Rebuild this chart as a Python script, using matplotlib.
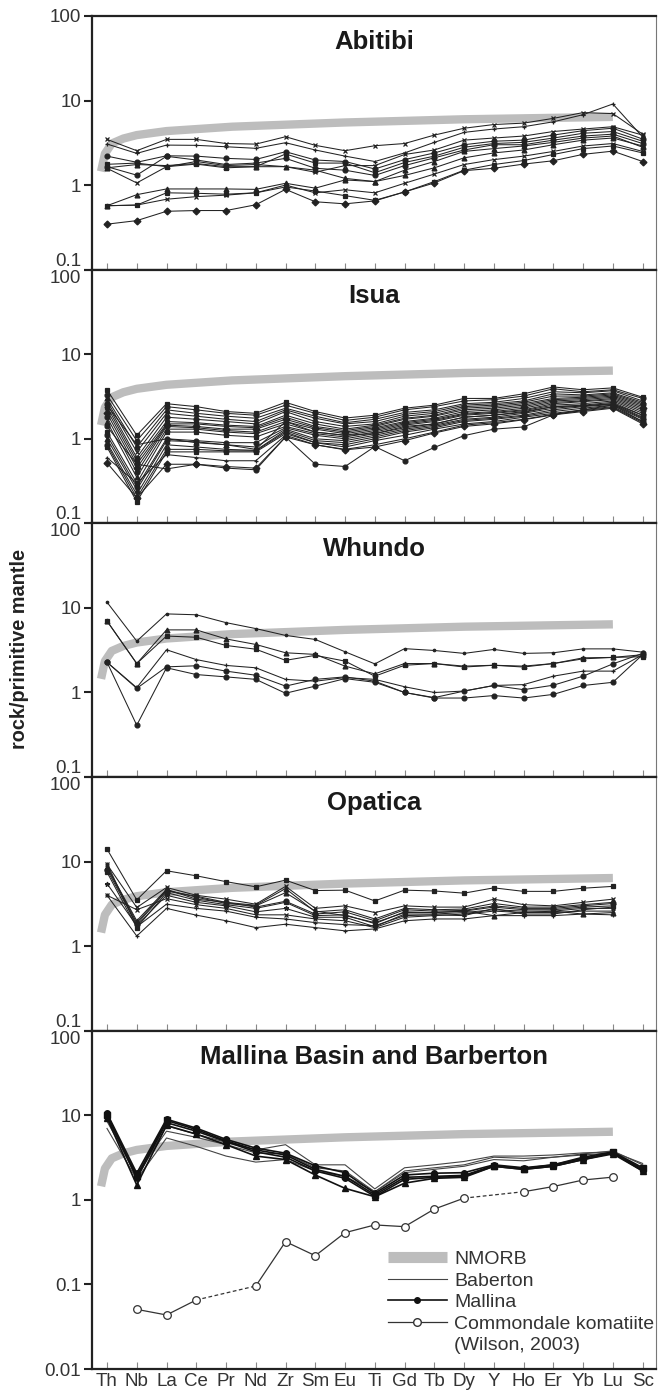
import numpy as np
import matplotlib
matplotlib.use("Agg")
import matplotlib.pyplot as plt
from matplotlib.lines import Line2D

plt.rcParams['font.family'] = ['Liberation Sans', 'DejaVu Sans']

elements = ['Th', 'Nb', 'La', 'Ce', 'Pr', 'Nd', 'Zr', 'Sm', 'Eu', 'Ti',
            'Gd', 'Tb', 'Dy', 'Y', 'Ho', 'Er', 'Yb', 'Lu', 'Sc']
nan = np.nan

# N-MORB reference curve (position along the element axis, normalised value)
nmorb_x = [-0.2, -0.07, 0.16, 0.55, 1.0, 2.0, 4.2, 8.0, 12.0, 17.0]
nmorb_y = [1.45, 2.35, 3.1, 3.55, 3.9, 4.35, 4.9, 5.5, 6.0, 6.4]

abitibi = [
    [3.47, 2.55, 3.47, 3.47, 3.1, 3.05, 3.73, 2.95, 2.55, 2.92, 3.1, 3.9, 4.7, 5.2, 5.4, 6.15, 7.2, 7.0, 4.0],
    [3.06, 2.37, 2.97, 2.95, 2.84, 2.72, 3.17, 2.6, 2.2, 1.9, 2.4, 3.2, 4.2, 4.6, 4.9, 5.6, 6.8, 9.1, 3.7],
    [2.2, 1.86, 2.22, 2.2, 2.07, 2.01, 2.48, 1.98, 1.9, 1.55, 2.0, 2.4, 3.0, 3.3, 3.4, 3.9, 4.4, 4.7, 3.5],
    [1.76, 1.82, 1.65, 1.77, 1.6, 1.65, 2.33, 1.82, 1.82, 1.4, 1.85, 2.2, 2.8, 3.1, 3.2, 3.6, 4.1, 4.3, 3.3],
    [1.65, 1.31, 2.19, 1.98, 1.75, 1.82, 2.07, 1.58, 1.5, 1.3, 1.7, 2.1, 2.6, 3.0, 3.0, 3.4, 3.8, 4.0, 3.1],
    [1.58, 1.06, 1.65, 1.9, 1.7, 1.75, 1.65, 1.42, 1.7, 1.7, 2.3, 2.6, 3.4, 3.6, 3.8, 4.3, 4.6, 4.9, 3.9],
    [1.6, 1.75, 1.7, 1.8, 1.65, 1.65, 1.65, 1.5, 1.2, 1.1, 1.5, 1.9, 2.5, 2.7, 2.9, 3.2, 3.6, 3.8, 2.8],
    [0.57, 0.77, 0.9, 0.9, 0.9, 0.89, 1.05, 0.92, 1.15, 1.1, 1.3, 1.6, 2.1, 2.4, 2.6, 3.0, 3.4, 3.6, 2.9],
    [0.57, 0.58, 0.68, 0.73, 0.76, 0.81, 1.0, 0.81, 0.88, 0.81, 1.05, 1.35, 1.75, 2.0, 2.2, 2.5, 2.9, 3.1, 2.5],
    [0.57, 0.58, 0.81, 0.8, 0.78, 0.81, 0.95, 0.85, 0.75, 0.66, 0.83, 1.1, 1.5, 1.75, 1.95, 2.3, 2.7, 2.9, 2.4],
    [0.345, 0.38, 0.49, 0.5, 0.5, 0.585, 0.89, 0.635, 0.6, 0.65, 0.83, 1.06, 1.48, 1.58, 1.77, 1.94, 2.31, 2.52, 1.9],
]

isua = [
    [3.8, 1.1, 2.6, 2.4, 2.1, 2.0, 2.7, 2.1, 1.76, 1.9, 2.3, 2.5, 3.0, 3.0, 3.4, 4.1, 3.8, 4.0, 3.1],
    [3.3, 0.95, 2.4, 2.2, 2.0, 1.9, 2.5, 2.0, 1.65, 1.8, 2.2, 2.4, 2.8, 2.9, 3.2, 3.9, 3.6, 3.8, 3.0],
    [3.0, 0.8, 2.2, 2.0, 1.85, 1.75, 2.3, 1.85, 1.55, 1.7, 2.05, 2.2, 2.6, 2.7, 3.0, 3.6, 3.5, 3.7, 2.8],
    [2.8, 0.7, 2.0, 1.85, 1.7, 1.6, 2.2, 1.75, 1.5, 1.6, 1.95, 2.1, 2.5, 2.6, 2.8, 3.4, 3.3, 3.5, 2.7],
    [2.6, 0.6, 1.8, 1.7, 1.6, 1.5, 2.1, 1.6, 1.4, 1.5, 1.85, 2.0, 2.4, 2.5, 2.7, 3.2, 3.2, 3.4, 2.6],
    [2.4, 0.55, 1.6, 1.55, 1.45, 1.4, 1.9, 1.5, 1.3, 1.45, 1.75, 1.9, 2.3, 2.4, 2.6, 3.0, 3.1, 3.3, 2.5],
    [2.2, 0.5, 1.5, 1.5, 1.4, 1.35, 1.8, 1.4, 1.25, 1.4, 1.7, 1.85, 2.2, 2.3, 2.5, 2.9, 3.0, 3.2, 2.4],
    [2.0, 0.45, 1.45, 1.4, 1.3, 1.3, 1.7, 1.35, 1.2, 1.35, 1.6, 1.75, 2.1, 2.2, 2.4, 2.8, 2.9, 3.1, 2.3],
    [1.8, 0.4, 1.4, 1.35, 1.25, 1.2, 1.6, 1.3, 1.15, 1.3, 1.55, 1.7, 2.0, 2.1, 2.3, 2.7, 2.8, 3.0, 2.2],
    [1.6, 0.35, 1.3, 1.3, 1.2, 1.15, 1.5, 1.2, 1.1, 1.25, 1.5, 1.65, 1.95, 2.05, 2.2, 2.6, 2.75, 2.9, 2.1],
    [1.2, 0.3, 1.2, 1.2, 1.1, 1.05, 1.4, 1.15, 1.05, 1.2, 1.45, 1.6, 1.9, 2.0, 2.15, 2.5, 2.6, 2.8, 2.0],
    [1.1, 0.27, 1.0, 0.95, 0.9, 0.9, 1.35, 1.1, 1.0, 1.15, 1.4, 1.5, 1.8, 1.9, 2.1, 2.4, 2.5, 2.7, 1.9],
    [1.0, 0.25, 0.95, 0.92, 0.85, 0.8, 1.3, 1.0, 0.95, 1.1, 1.3, 1.45, 1.7, 1.8, 2.0, 2.3, 2.45, 2.6, 1.8],
    [0.9, 0.22, 0.85, 0.8, 0.75, 0.73, 1.25, 0.95, 0.9, 1.05, 1.25, 1.4, 1.65, 1.75, 1.9, 2.2, 2.4, 2.55, 1.75],
    [0.85, 0.2, 0.75, 0.75, 0.72, 0.72, 1.2, 0.9, 0.85, 1.0, 1.2, 1.35, 1.6, 1.7, 1.85, 2.1, 2.3, 2.5, 1.7],
    [0.8, 0.18, 0.7, 0.7, 0.7, 0.7, 1.15, 0.9, 0.8, 0.95, 1.1, 1.3, 1.5, 1.6, 1.8, 2.0, 2.2, 2.4, 1.6],
    [0.6, 0.3, 0.65, 0.6, 0.55, 0.55, 1.1, 0.85, 0.75, 0.85, 1.0, 1.2, 1.45, 1.55, 1.7, 1.95, 2.15, 2.35, 1.55],
    [0.52, 0.2, 0.5, 0.5, 0.47, 0.45, 1.05, 0.85, 0.74, 0.8, 0.95, 1.17, 1.4, 1.5, 1.68, 1.92, 2.1, 2.3, 1.5],
    [1.4, 0.5, 0.44, 0.5, 0.45, 0.43, 1.05, 0.5, 0.47, 0.81, 0.55, 0.79, 1.09, 1.3, 1.38, 1.92, 2.2, 2.5, 1.6],
    [2.5, 0.85, 1.0, 0.9, 0.85, 0.75, 1.6, 1.2, 1.1, 1.15, 1.35, 1.5, 1.8, 1.9, 2.05, 2.4, 2.45, 2.6, 1.9],
]

whundo = [
    [11.7, 4.05, 8.5, 8.3, 6.7, 5.7, 4.73, 4.24, 3.03, 2.18, 3.3, 3.14, 2.9, 3.23, 2.9, 2.95, 3.28, 3.28, 3.0],
    [7.0, 2.2, 5.5, 5.5, 4.3, 3.7, 2.95, 2.82, 2.05, 1.66, 2.2, 2.2, 2.05, 2.1, 2.05, 2.2, 2.57, 2.6, 2.8],
    [7.0, 2.2, 4.65, 4.5, 3.6, 3.25, 2.4, 2.75, 2.35, 1.56, 2.1, 2.2, 2.0, 2.1, 2.0, 2.2, 2.5, 2.6, 2.65],
    [2.28, 1.14, 3.2, 2.45, 2.09, 1.96, 1.43, 1.36, 1.5, 1.43, 1.17, 1.0, 1.04, 1.21, 1.24, 1.56, 1.79, 1.79, 2.8],
    [2.28, 1.12, 2.01, 2.07, 1.79, 1.6, 1.19, 1.43, 1.53, 1.36, 1.0, 0.87, 1.04, 1.21, 1.08, 1.22, 1.56, 2.18, 2.9],
    [2.28, 0.41, 1.96, 1.63, 1.53, 1.43, 0.98, 1.19, 1.46, 1.32, 1.0, 0.86, 0.86, 0.92, 0.86, 0.95, 1.21, 1.32, 2.8],
]

opatica = [
    [14.1, 3.53, 7.8, 6.8, 5.8, 5.04, 6.04, 4.55, 4.6, 3.43, 4.6, 4.5, 4.24, 4.9, 4.45, 4.45, 4.85, 5.1, nan],
    [9.3, 2.87, 4.95, 4.0, 3.6, 3.14, 5.1, 2.8, 3.0, 2.5, 3.0, 2.9, 2.9, 3.6, 3.1, 3.0, 3.3, 3.6, nan],
    [8.7, 2.0, 4.7, 3.6, 3.3, 3.05, 4.8, 2.55, 2.7, 2.1, 2.8, 2.7, 2.75, 3.2, 2.9, 2.9, 3.1, 3.3, nan],
    [8.0, 1.82, 4.5, 3.9, 3.3, 2.9, 3.4, 2.4, 2.55, 2.0, 2.7, 2.6, 2.65, 3.0, 2.8, 2.8, 3.0, 3.2, nan],
    [7.5, 1.66, 4.3, 3.5, 3.1, 2.8, 3.3, 2.3, 2.35, 1.85, 2.55, 2.5, 2.6, 2.9, 2.7, 2.7, 2.9, 3.0, nan],
    [5.5, 1.75, 4.0, 3.3, 3.0, 2.55, 2.8, 2.2, 2.2, 1.7, 2.4, 2.4, 2.5, 2.7, 2.6, 2.6, 2.8, 2.8, nan],
    [4.0, 2.7, 3.65, 3.1, 2.8, 2.35, 2.35, 2.1, 2.0, 1.66, 2.2, 2.3, 2.4, 2.6, 2.5, 2.5, 2.6, 2.6, nan],
    [4.0, 1.32, 2.8, 2.33, 2.0, 1.66, 1.82, 1.66, 1.52, 1.6, 2.0, 2.1, 2.1, 2.3, 2.3, 2.3, 2.4, 2.35, nan],
    [8.5, 1.9, 4.6, 3.8, 3.2, 3.0, 4.3, 2.6, 2.3, 1.9, 2.5, 2.5, 2.6, 2.3, 2.5, 2.6, 2.4, 2.5, nan],
    [9.5, 1.7, 3.14, 2.8, 2.6, 2.2, 2.1, 1.9, 1.8, 1.75, 2.3, 2.35, 2.3, 2.8, 2.4, 2.4, 2.7, 2.9, nan],
]

barberton = [
    [7.0, 1.75, 5.4, 4.3, 3.3, 2.8, 3.0, 2.2, 1.9, 1.25, 2.1, 2.3, 2.5, 3.0, 2.9, 3.2, 3.4, 3.6, 2.4],
    [9.5, 1.8, 7.5, 6.0, 4.8, 3.9, 4.5, 2.6, 2.6, 1.35, 2.4, 2.6, 2.85, 3.3, 3.3, 3.4, 3.6, 3.7, 2.7],
    [8.5, 2.0, 6.5, 5.5, 4.5, 3.6, 3.5, 2.4, 2.2, 1.25, 2.2, 2.4, 2.6, 3.2, 3.1, 3.2, 3.5, 3.8, 2.6],
]

mallina = [
    [10.6, 2.07, 9.0, 7.06, 5.2, 4.1, 3.57, 2.53, 2.1, 1.2, 1.97, 2.07, 2.1, 2.6, 2.4, 2.6, 3.1, 3.6, 2.3],
    [9.3, 1.5, 7.6, 6.0, 4.5, 3.3, 3.0, 1.97, 1.37, 1.09, 1.58, 1.8, 1.85, 2.5, 2.3, 2.5, 3.0, 3.5, 2.2],
    [10.0, 1.9, 8.7, 6.8, 5.0, 3.9, 3.4, 2.3, 1.9, 1.15, 1.85, 1.9, 1.95, 2.55, 2.35, 2.6, 3.2, 3.7, 2.4],
    [10.2, 1.8, 8.2, 6.5, 4.9, 3.7, 3.2, 2.2, 1.8, 1.1, 1.75, 1.85, 1.9, 2.5, 2.3, 2.5, 3.0, 3.6, 2.2],
]

commondale = [nan, 0.0508, 0.0436, 0.0656, nan, 0.096, 0.321, 0.219, 0.41, 0.506,
              0.483, 0.78, 1.05, nan, 1.25, 1.44, 1.72, 1.86, nan]

titles = ['Abitibi', 'Isua', 'Whundo', 'Opatica', 'Mallina Basin and Barberton']
groups = [abitibi, isua, whundo, opatica, None]
marker_sets = [
    ['x', '+', 'o', 's', 'o', 'x', '^', '^', 'x', 's', 'D'],
    ['s', 'o', '^', 'x', 'o', 's', '+', 'D', 'o', '^'],
    ['.', '^', 's', '+', 'o', 'o'],
    ['s', 'x', '^', 'o', 's', '*', 'x', '+', '^', '+'],
]

x = np.arange(len(elements))
ink = '#222222'
nmorb_color = '#bdbdbd'

fig = plt.figure(figsize=(6.58, 13.98), dpi=100)
gs = fig.add_gridspec(5, 1, height_ratios=[3, 3, 3, 3, 4], hspace=0,
                      left=0.14, right=0.997, top=0.9886, bottom=0.0207)
axes = [fig.add_subplot(gs[i]) for i in range(5)]

for i, ax in enumerate(axes):
    ax.plot(nmorb_x, nmorb_y, color=nmorb_color, lw=6, solid_capstyle='butt', zorder=1)

    if groups[i] is not None:
        marks = marker_sets[i]
        for j, vals in enumerate(groups[i]):
            ax.plot(x, vals, color=ink, lw=0.75, marker=marks[j % len(marks)],
                    ms=3.5, mew=0.9, mfc=ink, mec=ink, zorder=3)
    else:
        for vals in barberton:
            ax.plot(x, vals, color='#444444', lw=0.8, zorder=3)
        for j, vals in enumerate(mallina):
            ax.plot(x, vals, color='#111111', lw=1.2, marker=['o', '^', 's', 'o'][j],
                    ms=4, mfc='#111111', mec='#111111', zorder=4)
        # komatiite: solid between neighbouring analyses, dashed across gaps
        cv = np.array(commondale)
        ax.plot(x, cv, color='#333333', lw=0.9, zorder=3)
        ok = np.where(~np.isnan(cv))[0]
        for a, b in zip(ok[:-1], ok[1:]):
            if b - a > 1:
                ax.plot([a, b], [cv[a], cv[b]], color='#333333', lw=0.9, ls=(0, (3, 2)), zorder=3)
        ax.plot(x, cv, ls='none', marker='o', ms=5.5, mfc='white', mec='#333333', mew=0.9, zorder=5)

    ax.set_yscale('log')
    ax.set_xlim(-0.5, 18.45)
    if i < 4:
        ax.set_ylim(0.1, 100)
        ax.set_yticks([0.1, 1, 10, 100], ['0.1', '1', '10', '100'])
    else:
        ax.set_ylim(0.01, 100)
        ax.set_yticks([0.01, 0.1, 1, 10, 100], ['0.01', '0.1', '1', '10', '100'])
    ax.yaxis.set_minor_locator(matplotlib.ticker.NullLocator())
    ax.tick_params(axis='y', direction='out', length=6, width=1.5, color=ink,
                   labelsize=13.5, labelcolor='#333333', pad=2)
    ax.set_xticks(x)
    ax.tick_params(axis='x', direction='in', length=5, width=0.8, color='#888888',
                   labelsize=13.5, labelcolor='#333333', pad=3)
    if i < 4:
        ax.set_xticklabels([])
        ax.yaxis.get_major_ticks()[0].label1.set_va('bottom')
    else:
        ax.set_xticklabels(elements)
    if i > 0:
        ax.yaxis.get_major_ticks()[-1].label1.set_va('top')

    for side in ['left', 'bottom', 'top']:
        ax.spines[side].set_linewidth(1.6)
        ax.spines[side].set_color(ink)
    ax.spines['right'].set_linewidth(0.8)
    ax.spines['right'].set_color('#777777')

    ax.annotate(titles[i], xy=(0.5, 1), xycoords='axes fraction', xytext=(0, -26),
                textcoords='offset pixels', ha='center', va='center',
                fontsize=18.5, fontweight='bold', color='#1a1a1a')

handles = [
    Line2D([], [], color=nmorb_color, lw=8, solid_capstyle='butt'),
    Line2D([], [], color='#444444', lw=0.8),
    Line2D([], [], color='#111111', lw=1.2, marker='o', ms=4),
    Line2D([], [], color='#333333', lw=0.9, marker='o', ms=5.5, mfc='white', mec='#333333'),
    Line2D([], [], color='none'),
]
labels = ['NMORB', 'Baberton', 'Mallina', 'Commondale komatiite', '(Wilson, 2003)']
axes[4].legend(handles, labels, loc='upper left', bbox_to_anchor=(0.525, 0.35),
               frameon=False, fontsize=14, handlelength=3.0, handletextpad=0.4,
               labelspacing=0.2, borderpad=0, borderaxespad=0, labelcolor='#333333')

fig.text(0.029, 1 - 649 / 1398, 'rock/primitive mantle', rotation=90, ha='center',
         va='center', fontsize=14.3, fontweight='bold', color='#222222')

fig.savefig('out.png', dpi=100)
